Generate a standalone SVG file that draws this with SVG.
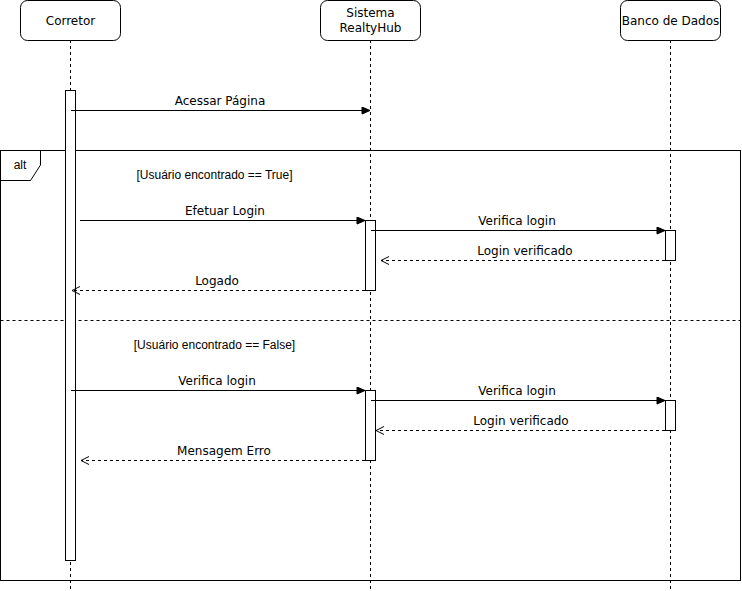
<svg xmlns="http://www.w3.org/2000/svg" width="742" height="591" viewBox="0 0 742 591">
  <style>
    .head { fill: #fff; stroke: #000; stroke-width: 1; }
    .life { stroke: #000; stroke-width: 1; stroke-dasharray: 3 3; fill: none; }
    .act { fill: #fff; stroke: #000; stroke-width: 1; }
    .msg { stroke: #000; stroke-width: 1; fill: none; }
    .ret { stroke: #000; stroke-width: 1; fill: none; stroke-dasharray: 3 3; }
    .lbl { font-family: "DejaVu Sans", Verdana, sans-serif; font-size: 12px; fill: #000; text-anchor: middle; }
    .guard { font-family: "Liberation Sans", Arial, sans-serif; font-size: 12px; fill: #000; text-anchor: middle; }
    .frame { fill: none; stroke: #000; stroke-width: 1; }
  </style>
  <defs>
    <marker id="solid" markerWidth="10" markerHeight="10" refX="9" refY="4" orient="auto" markerUnits="userSpaceOnUse">
      <path d="M1,0.5 L9,4 L1,7.5 Z" fill="#000" stroke="#000" stroke-width="1"/>
    </marker>
    <marker id="open" markerWidth="12" markerHeight="12" refX="9" refY="5" orient="auto" markerUnits="userSpaceOnUse">
      <path d="M1,1 L9,5 L1,9" fill="none" stroke="#000" stroke-width="1"/>
    </marker>
  </defs>

  <rect width="742" height="591" fill="#fff"/>

  <!-- alt combined fragment -->
  <g id="alt-frame">
    <rect class="frame" x="0.5" y="150.5" width="740" height="430"/>
    <polygon class="frame" points="0.5,150.5 40.5,150.5 40.5,165 30.5,180.5 0.5,180.5"/>
    <text class="guard" x="20" y="169">alt</text>
    <line x1="0.5" y1="320.5" x2="740.5" y2="320.5" class="ret"/>
    <text class="guard" x="214.5" y="178.5">[Usuário encontrado == True]</text>
    <text class="guard" x="214.5" y="348.5">[Usuário encontrado == False]</text>
  </g>

  <!-- participants with lifelines -->
  <g id="corretor">
    <line class="life" x1="70.5" y1="40" x2="70.5" y2="591"/>
    <rect class="head" x="20.5" y="0.5" width="100" height="40" rx="7"/>
    <text class="lbl" x="70.5" y="24.5">Corretor</text>
  </g>
  <g id="sistema">
    <line class="life" x1="370.5" y1="40" x2="370.5" y2="591"/>
    <rect class="head" x="320.5" y="0.5" width="100" height="40" rx="7"/>
    <text class="lbl" x="370.5" y="17">Sistema</text>
    <text class="lbl" x="370.5" y="31.5">RealtyHub</text>
  </g>
  <g id="banco">
    <line class="life" x1="670.5" y1="40" x2="670.5" y2="591"/>
    <rect class="head" x="620.5" y="0.5" width="100" height="40" rx="7"/>
    <text class="lbl" x="670.5" y="24.5">Banco de Dados</text>
  </g>

  <!-- activation bars -->
  <g id="activations">
    <rect class="act" x="65.5" y="90.5" width="10" height="470"/>
    <rect class="act" x="365.5" y="220.5" width="10" height="70"/>
    <rect class="act" x="665.5" y="230.5" width="10" height="30"/>
    <rect class="act" x="365.5" y="390.5" width="10" height="70"/>
    <rect class="act" x="665.5" y="400.5" width="10" height="30"/>
  </g>

  <!-- messages -->
  <g id="connectors">
    <line class="msg" x1="71" y1="110.5" x2="370" y2="110.5" marker-end="url(#solid)"/>
    <text class="lbl" x="220" y="104.5">Acessar Página</text>

    <line class="msg" x1="80" y1="220.5" x2="365" y2="220.5" marker-end="url(#solid)"/>
    <text class="lbl" x="225" y="214.5">Efetuar Login</text>

    <line class="msg" x1="371" y1="230.5" x2="665" y2="230.5" marker-end="url(#solid)"/>
    <text class="lbl" x="517" y="224.5">Verifica login</text>

    <line class="ret" x1="665" y1="260.5" x2="381" y2="260.5" marker-end="url(#open)"/>
    <text class="lbl" x="525" y="254.5">Login verificado</text>

    <line class="ret" x1="365" y1="290.5" x2="72" y2="290.5" marker-end="url(#open)"/>
    <text class="lbl" x="217" y="284.5">Logado</text>

    <line class="msg" x1="71" y1="390.5" x2="365" y2="390.5" marker-end="url(#solid)"/>
    <text class="lbl" x="217" y="384.5">Verifica login</text>

    <line class="msg" x1="371" y1="400.5" x2="665" y2="400.5" marker-end="url(#solid)"/>
    <text class="lbl" x="517" y="394.5">Verifica login</text>

    <line class="ret" x1="665" y1="430.5" x2="376" y2="430.5" marker-end="url(#open)"/>
    <text class="lbl" x="521" y="424.5">Login verificado</text>

    <line class="ret" x1="365" y1="460.5" x2="81" y2="460.5" marker-end="url(#open)"/>
    <text class="lbl" x="224" y="454.5">Mensagem Erro</text>
  </g>
</svg>
